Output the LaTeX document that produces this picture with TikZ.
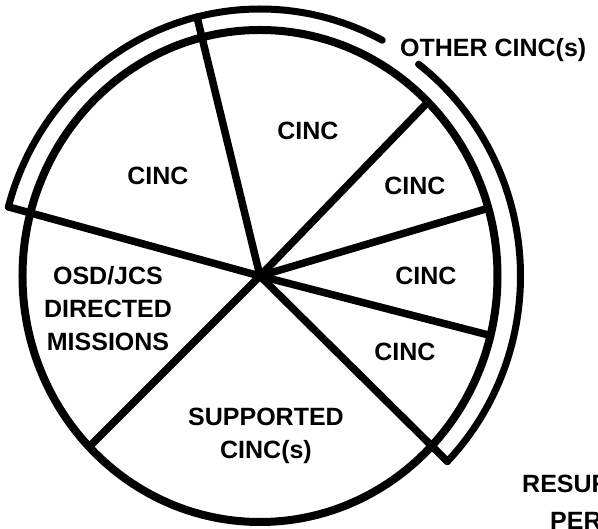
\documentclass[tikz,border=0pt]{standalone}
\usepackage{fontspec}
\setmainfont{Liberation Sans}

\begin{document}
\begin{tikzpicture}[
    x=1pt, y=1pt,
    rim/.style={line width=8pt},
    spoke/.style={line width=7.5pt, line cap=round},
    band/.style={line width=7pt, line cap=round},
    bandarc/.style={x radius=260.5pt, y radius=267pt},
    lbl/.style={font=\bfseries\fontsize{25}{33}\selectfont, inner sep=0pt, align=center}
]
    \useasboundingbox (-260,-253) rectangle (338,276);

    \coordinate (ctr) at (0,0);
    \draw[rim] (ctr) ellipse [x radius=237.5pt, y radius=246pt];

    % spoke ends
    \coordinate (s1) at (104:260.5pt and 267pt);
    \coordinate (s2) at (165:260.5pt and 267pt);
    \coordinate (s3) at (45:237.5pt and 246pt);
    \coordinate (s4) at (16:237.5pt and 246pt);
    \coordinate (s5) at (-14:237.5pt and 246pt);
    \coordinate (s6) at (-44:260.5pt and 267pt);
    \coordinate (s7) at (224:237.5pt and 246pt);
    \foreach \s in {s1,s2,s3,s4,s5,s6,s7}
        \draw[spoke] (ctr) -- (\s);

    % outer band, broken for its label
    \coordinate (gap) at (62:260.5pt and 267pt);
    \draw[band] (s6) arc [start angle=-44, end angle=52.5, bandarc];
    \draw[band] (gap) arc [start angle=62, end angle=165, bandarc];

    \node[lbl] (cinc1) at (48,145) {CINC};
    \node[lbl] (cinc2) at (-102,100) {CINC};
    \node[lbl] (cinc3) at (155,90) {CINC};
    \node[lbl] (cinc4) at (166,0) {CINC};
    \node[lbl] (cinc5) at (145,-76) {CINC};
    \node[lbl] (osd) at (-152,-33) {OSD/JCS\\DIRECTED\\MISSIONS};
    \node[lbl] (supp) at (6,-160) {SUPPORTED\\CINC(s)};
    \node[lbl, anchor=base west] (other) at (140,219) {OTHER CINC(s)};
    \node[lbl, anchor=base west] (resur) at (262,-217) {RESUR};
    \node[lbl, anchor=base west] (per) at (290,-254) {PER};
\end{tikzpicture}
\end{document}
